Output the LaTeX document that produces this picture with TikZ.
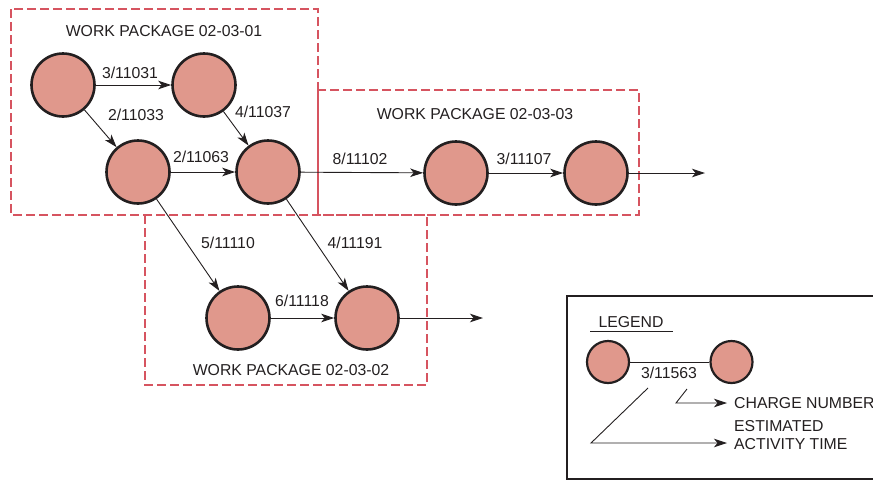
\documentclass[tikz,border=0pt]{standalone}
\usepackage{fontspec}
\setmainfont{Liberation Sans}
\usetikzlibrary{arrows.meta}
\definecolor{nodefill}{RGB}{224,152,140}
\definecolor{wpred}{RGB}{214,84,96}
\definecolor{ink}{RGB}{35,31,32}
\begin{document}
\begin{tikzpicture}[x=1pt,y=-1pt,
 ev/.style={circle,draw=ink,fill=nodefill,line width=2.6pt,minimum size=63pt,inner sep=0pt},
 lev/.style={ev,minimum size=42pt,line width=2.2pt},
 act/.style={draw=ink,line width=0.9pt,-{Stealth[length=13pt,width=8.5pt,inset=3.5pt]}},
 plain/.style={draw=ink,line width=0.9pt},
 lbl/.style={text=ink,font=\fontsize{15.8}{18}\selectfont,inner sep=0pt},
 wp/.style={draw=wpred,line width=1.1pt,dash pattern=on 9pt off 4pt}]
\useasboundingbox (0,0) rectangle (873,480);
% work package boxes
\draw[wp] (11,9) rectangle (318,215);
\draw[wp] (318,90) rectangle (639,215);
\draw[wp] (145,215) rectangle (427,385);
\node[lbl] (wp1) at (164,31) {WORK PACKAGE 02-03-01};
\node[lbl] (wp3) at (475,114) {WORK PACKAGE 02-03-03};
\node[lbl] (wp2) at (291,370) {WORK PACKAGE 02-03-02};
% events
\node[ev] (A) at (63,85) {};
\node[ev] (B) at (204,85) {};
\node[ev] (C) at (138,172) {};
\node[ev] (D) at (268,172) {};
\node[ev] (E) at (456,173) {};
\node[ev] (F) at (596,173) {};
\node[ev] (G) at (238,318) {};
\node[ev] (H) at (367,318) {};
\coordinate (Fout) at (705,173);
\coordinate (Hout) at (483,318);
% activities
\draw[act] (A) -- (B);
\draw[act] (A) -- (C);
\draw[act] (B) -- (D);
\draw[act] (C) -- (D);
\draw[act] (D) -- (E);
\draw[act] (E) -- (F);
\draw[act] (F) -- (Fout);
\draw[act] (C) -- (G);
\draw[act] (D) -- (H);
\draw[act] (G) -- (H);
\draw[act] (H) -- (Hout);
% activity labels
\node[lbl] (l1) at (130,73) {3/11031};
\node[lbl] (l2) at (136,115) {2/11033};
\node[lbl] (l3) at (263,112) {4/11037};
\node[lbl] (l4) at (201,157) {2/11063};
\node[lbl] (l5) at (360,159) {8/11102};
\node[lbl] (l6) at (524,159) {3/11107};
\node[lbl] (l7) at (228,243) {5/11110};
\node[lbl] (l8) at (355,243) {4/11191};
\node[lbl] (l9) at (302,301) {6/11118};
% legend
\draw[draw=ink,line width=2pt] (567,296) rectangle (885,479);
\node[lbl] (leg) at (631,322) {LEGEND};
\draw[plain] (590,331) -- (673,331);
\node[lev] (L1) at (608,362) {};
\node[lev] (L2) at (731.5,362) {};
\draw[plain] (L1) -- (L2);
\node[lbl] (lt) at (669,373) {3/11563};
\coordinate (c1) at (687,389);
\coordinate (c2) at (676,403);
\coordinate (c3) at (727,403);
\coordinate (e1) at (648,388);
\coordinate (e2) at (591,443);
\coordinate (e3) at (727,443);
\draw[act] (c1) -- (c2) -- (c3);
\draw[act] (e1) -- (e2) -- (e3);
\node[lbl,anchor=west] (cn) at (734,403) {CHARGE NUMBER};
\node[lbl,anchor=west] (es) at (734,426) {ESTIMATED};
\node[lbl,anchor=west] (at) at (734,444) {ACTIVITY TIME};
\end{tikzpicture}
\end{document}
